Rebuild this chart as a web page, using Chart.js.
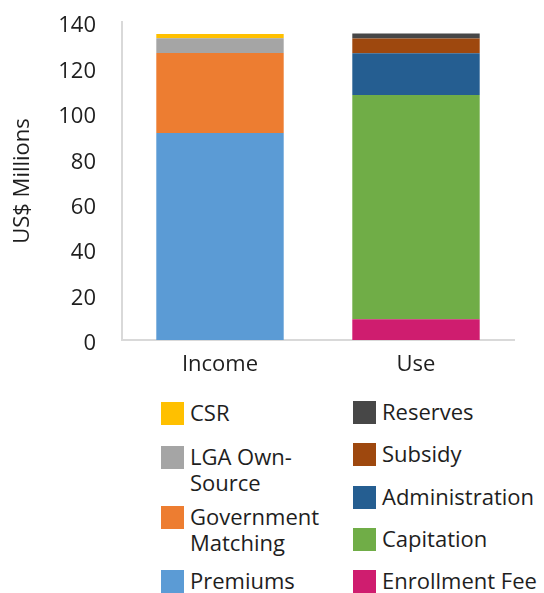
<!DOCTYPE html>
<html>
<head>
<meta charset="utf-8">
<script src="https://cdn.jsdelivr.net/npm/chart.js@4/dist/chart.umd.min.js"></script>
<style>
  html, body { margin: 0; padding: 0; background: #fff; }
  #wrap { position: relative; width: 544px; height: 593px; overflow: hidden;
          font-family: 'Open Sans', sans-serif; color: #1e1e1e; }
  #box { position: absolute; left: 0; top: 0; width: 544px; height: 380px; }
  .item { position: absolute; font-size: 22px; line-height: 26px; }
  .item .sw { position: absolute; left: 0; top: 2px; width: 23px; height: 23px; }
  .item .tx { position: absolute; left: 29px; top: -1px; }
</style>
</head>
<body>
<div id="wrap">
  <div id="box"><canvas id="chart"></canvas></div>
  <div id="legend"></div>
</div>
<script>
const categories = ['Income', 'Use']

// income side, bottom to top
const incomeLabels = ['Premiums', 'Government Matching', 'LGA Own-Source', 'CSR']
const incomeValues = [91.1, 35.2, 6.6, 1.8]
const incomeColors = ['#5B9BD5', '#ED7D31', '#A5A5A5', '#FFC000']

// use side, bottom to top
const useLabels = ['Enrollment Fee', 'Capitation', 'Administration', 'Subsidy', 'Reserves']
const useValues = [9.1, 98.8, 18.3, 6.5, 2.2]
const useColors = ['#CF1D6F', '#70AD47', '#255E91', '#9E480E', '#474747']

const yTicks = [0, 20, 40, 60, 80, 100, 120, 140]

const datasets = []
incomeLabels.forEach((l, i) => datasets.push({
  label: l, data: [incomeValues[i], null], backgroundColor: incomeColors[i],
}))
useLabels.forEach((l, i) => datasets.push({
  label: l, data: [null, useValues[i]], backgroundColor: useColors[i],
}))

const font = { family: 'Open Sans', size: 22 }

new Chart(document.getElementById('chart'), {
  type: 'bar',
  data: { labels: categories, datasets },
  options: {
    responsive: true,
    maintainAspectRatio: false,
    animation: false,
    layout: { padding: { top: 22, right: 30, left: 10, bottom: 0 } },
    datasets: { bar: { categoryPercentage: 0.65, barPercentage: 1, borderWidth: 0 } },
    plugins: { legend: { display: false }, tooltip: { enabled: false } },
    scales: {
      x: {
        stacked: true,
        grid: { display: false },
        border: { color: '#d9d9d9', width: 2 },
        afterFit: s => { s.height = 40 },
        ticks: { color: '#1e1e1e', font, padding: 4 },
      },
      y: {
        stacked: true,
        min: 0, max: 140,
        afterBuildTicks: s => { s.ticks = yTicks.map(v => ({ value: v })) },
        afterFit: s => { s.width = 112; s.paddingTop = 0; s.paddingBottom = 0 },
        grid: { display: false },
        border: { color: '#d9d9d9', width: 2 },
        ticks: { color: '#1e1e1e', font, padding: 18, labelOffset: 4 },
        title: {
          display: true, text: 'US$ Millions', color: '#1e1e1e',
          font, padding: { top: 0, bottom: 0 },
        },
      },
    },
  },
})

// html legend, two columns
const leftCol = { x: 161, tops: [400, 444, 504, 568], width: 145 }
const rightCol = { x: 353, tops: [399, 441, 484, 526, 568] }
const legend = document.getElementById('legend')
function addItem(label, color, x, top, width) {
  const d = document.createElement('div')
  d.className = 'item'
  d.style.left = x + 'px'
  d.style.top = top + 'px'
  d.innerHTML = '<div class="sw" style="background:' + color + '"></div><div class="tx"></div>'
  const tx = d.querySelector('.tx')
  tx.textContent = label
  if (width) tx.style.width = width + 'px'
  else tx.style.whiteSpace = 'nowrap'
  legend.appendChild(d)
}
const incTop = incomeLabels.slice().reverse(), incCol = incomeColors.slice().reverse()
incTop.forEach((l, i) => addItem(l, incCol[i], leftCol.x, leftCol.tops[i], leftCol.width))
const useTop = useLabels.slice().reverse(), useCol = useColors.slice().reverse()
useTop.forEach((l, i) => addItem(l, useCol[i], rightCol.x, rightCol.tops[i]))
</script>
</body>
</html>
